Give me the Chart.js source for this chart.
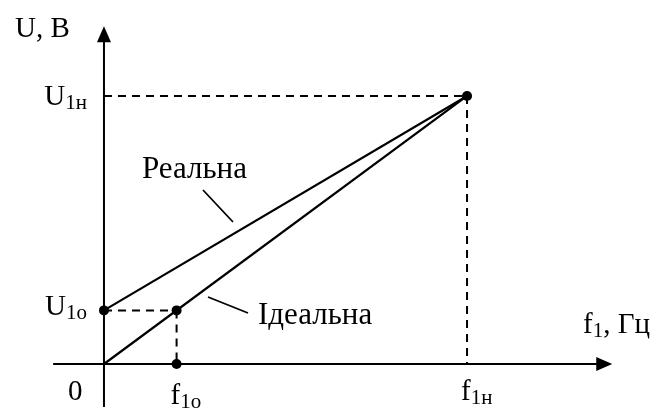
<!DOCTYPE html>
<html>
<head>
<meta charset="utf-8">
<script src="https://cdn.jsdelivr.net/npm/chart.js@4.4.1/dist/chart.umd.min.js"></script>
<style>
  html, body { margin: 0; padding: 0; background: #fff; }
  canvas { display: block; }
</style>
</head>
<body>
<canvas id="vfChart" width="658" height="410"></canvas>
<script>
// Frequency ticks: 0, f1о, f1н (relative units)
const freqTicks = [0, 1, 5];
const freqTickNames = [['0', ''], ['f', '1о'], ['f', '1н']];
// Voltage ticks: U1о, U1н
const voltTicks = [1, 5];
const voltTickNames = [['U', '1о'], ['U', '1н']];
// Two U(f) characteristics, each from f = 0 to f = f1н
const realVolt = [1, 5];
const idealVolt = [0, 5];
const lineNames = ['Реальна', 'Ідеальна'];

const SERIF = '"Liberation Serif", "DejaVu Serif", serif';
const F0 = freqTicks[0], F1o = freqTicks[1], F1n = freqTicks[2];
const U1o = voltTicks[0], U1n = voltTicks[1];

// axis extents in value units (where the drawn axis lines start/stop)
const X_AXIS = { from: -0.7, to: 7.0 };
const Y_AXIS = { from: -0.8, to: 6.3 };

function seg(a, b) { return [{ x: a[0], y: a[1] }, { x: b[0], y: b[1] }]; }

const solid = { borderColor: '#000', borderWidth: 2.2, pointRadius: 0, fill: false, showLine: true };
const dashed = Object.assign({}, solid, { borderDash: [8, 6], borderWidth: 2 });

const datasets = [
    Object.assign({ data: seg([F0, realVolt[0]], [F1n, realVolt[1]]) }, solid),
    Object.assign({ data: seg([F0, idealVolt[0]], [F1n, idealVolt[1]]) }, solid),
    Object.assign({ data: seg([F0, U1n], [F1n, U1n]) }, dashed),
    Object.assign({ data: seg([F1n, U1n], [F1n, 0]) }, dashed),
    Object.assign({ data: seg([F0, U1o], [F1o, U1o]) }, dashed),
    Object.assign({ data: seg([F1o, U1o], [F1o, 0]) }, dashed),
    {
        data: [{ x: F0, y: U1o }, { x: F1o, y: U1o }, { x: F1o, y: 0 }, { x: F1n, y: U1n }],
        showLine: false, pointRadius: 5, pointBackgroundColor: '#000', pointBorderWidth: 0
    }
];

// main text plus an optional lowered subscript; returns the right edge
function text(ctx, x, y, main, sub, align, size) {
    size = size || 29;
    const subSize = Math.round(size * 0.72);
    ctx.font = size + 'px ' + SERIF;
    const w1 = ctx.measureText(main).width;
    ctx.font = subSize + 'px ' + SERIF;
    const w2 = sub ? ctx.measureText(sub).width : 0;
    let left = x;
    if (align === 'right') left = x - w1 - w2;
    ctx.font = size + 'px ' + SERIF;
    ctx.fillText(main, left, y);
    if (sub) {
        ctx.font = subSize + 'px ' + SERIF;
        ctx.fillText(sub, left + w1, y + 4);
    }
    return left + w1 + w2;
}

const axesPlugin = {
    id: 'axesAndLabels',
    afterDatasetsDraw(chart) {
        const ctx = chart.ctx;
        const xs = chart.scales.x, ys = chart.scales.y;
        const ox = xs.getPixelForValue(0), oy = ys.getPixelForValue(0);
        const xEnd = xs.getPixelForValue(X_AXIS.to);
        const yEnd = ys.getPixelForValue(Y_AXIS.to);
        ctx.save();
        ctx.strokeStyle = '#000';
        ctx.fillStyle = '#000';
        ctx.lineWidth = 2;

        // axes
        ctx.beginPath();
        ctx.moveTo(xs.getPixelForValue(X_AXIS.from), oy);
        ctx.lineTo(xEnd - 10, oy);
        ctx.moveTo(ox, ys.getPixelForValue(Y_AXIS.from));
        ctx.lineTo(ox, yEnd + 10);
        ctx.stroke();

        // arrow heads
        ctx.beginPath();
        ctx.moveTo(xEnd, oy);
        ctx.lineTo(xEnd - 16, oy - 7);
        ctx.lineTo(xEnd - 16, oy + 7);
        ctx.closePath();
        ctx.fill();
        ctx.beginPath();
        ctx.moveTo(ox, yEnd);
        ctx.lineTo(ox - 7, yEnd + 16);
        ctx.lineTo(ox + 7, yEnd + 16);
        ctx.closePath();
        ctx.fill();

        // axis titles
        ctx.textBaseline = 'alphabetic';
        text(ctx, 15, 37, 'U, В', '');
        const r = text(ctx, 583, 333, 'f', '1');
        text(ctx, r, 333, ', Гц', '');

        // voltage tick names
        voltTicks.forEach((v, i) => {
            const y = ys.getPixelForValue(v);
            text(ctx, ox - 17, y + (i === 0 ? 5 : 9), voltTickNames[i][0], voltTickNames[i][1], 'right');
        });

        // frequency tick names
        freqTicks.forEach((f, i) => {
            const x = xs.getPixelForValue(f);
            if (i === 0) {
                text(ctx, x - 36, 400, freqTickNames[i][0], '');
            } else {
                text(ctx, x - 6, i === 1 ? 404 : 400, freqTickNames[i][0], freqTickNames[i][1]);
            }
        });

        // line captions with leader strokes
        ctx.lineWidth = 1.8;
        ctx.beginPath();
        ctx.moveTo(203, 190);
        ctx.lineTo(233, 222);
        ctx.moveTo(208, 297);
        ctx.lineTo(248, 313);
        ctx.stroke();
        text(ctx, 142, 178, lineNames[0], '', 'left', 31);
        text(ctx, 258, 324, lineNames[1], '', 'left', 31);
        ctx.restore();
    }
};

new Chart(document.getElementById('vfChart'), {
    type: 'scatter',
    data: { datasets: datasets },
    options: {
        responsive: false,
        animation: false,
        layout: { padding: 0, autoPadding: false },
        plugins: { legend: { display: false }, tooltip: { enabled: false } },
        scales: {
            x: { type: 'linear', display: false, min: -1.432, max: 7.63 },
            y: { type: 'linear', display: false, min: -0.858, max: 6.79 }
        }
    },
    plugins: [axesPlugin]
});
</script>
</body>
</html>
